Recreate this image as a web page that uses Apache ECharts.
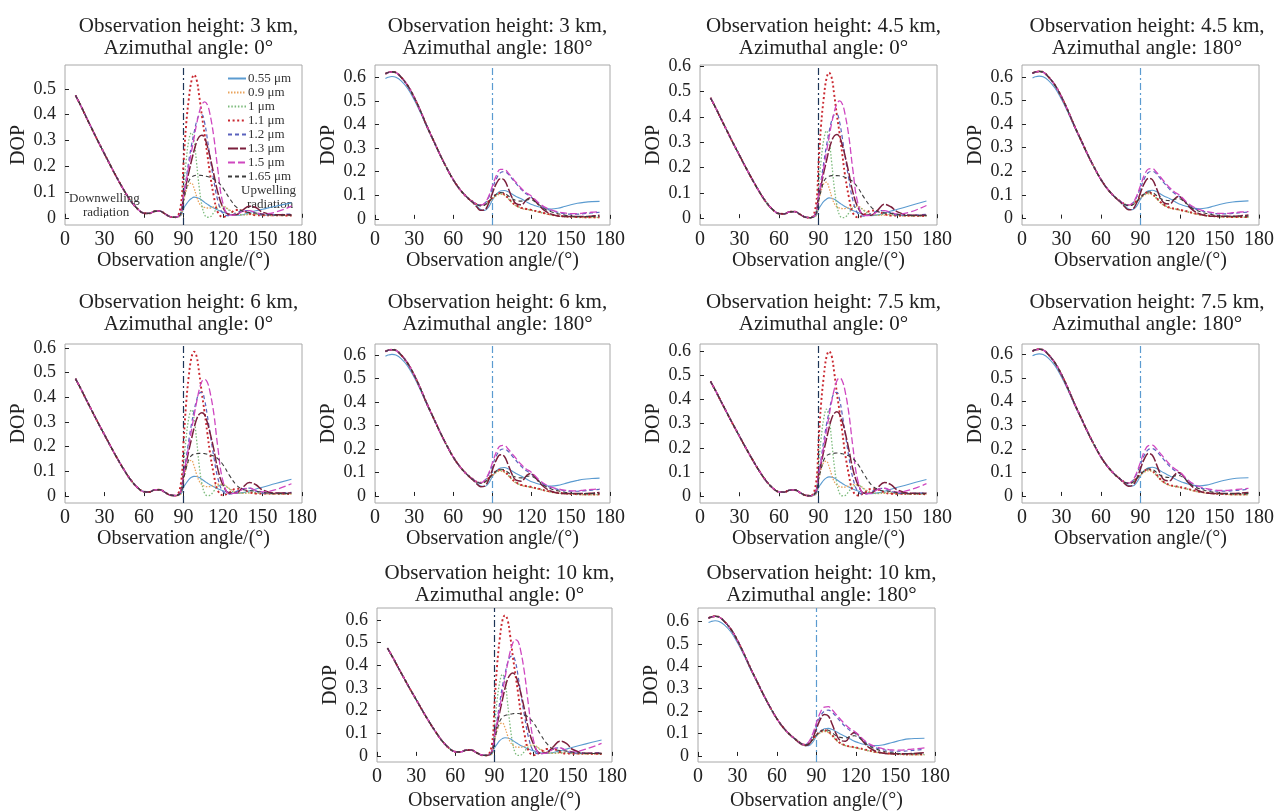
<!DOCTYPE html>
<html>
<head>
<meta charset="utf-8">
<script src="https://cdn.jsdelivr.net/npm/echarts@6/dist/echarts.min.js"></script>
<style>
  html, body { margin: 0; padding: 0; background: #fff; }
  #chart { width: 1277px; height: 812px; }
</style>
</head>
<body>
<div id="chart"></div>
<script>
// wavelengths
const waveNames = ['0.55 μm', '0.9 μm', '1 μm', '1.1 μm', '1.2 μm', '1.3 μm', '1.5 μm', '1.65 μm'];

// azimuth 0: downwelling part, same for all wavelengths
const angDown0 = [8, 12, 16, 20, 25, 30, 35, 40, 45, 50, 55, 60, 64, 68, 72, 76, 80, 84];
const dopDown0 = [0.475, 0.435, 0.392, 0.35, 0.298, 0.248, 0.198, 0.15, 0.105, 0.065, 0.035, 0.018, 0.017, 0.025, 0.026, 0.015, 0.004, 0.002];
// azimuth 0: upwelling part
const angUp0 = [88, 90, 92, 94, 96, 98, 100, 102, 104, 106, 108, 110, 113, 116, 120, 125, 130, 135, 140, 145, 150, 160, 172];

const up0_3km = [
  [0.008,0.035,0.052,0.066,0.075,0.08,0.079,0.075,0.068,0.06,0.053,0.046,0.038,0.03,0.022,0.014,0.01,0.012,0.02,0.027,0.033,0.045,0.058],
  [0.01,0.06,0.105,0.13,0.135,0.115,0.082,0.056,0.044,0.04,0.038,0.038,0.042,0.046,0.045,0.03,0.016,0.011,0.012,0.012,0.01,0.008,0.008],
  [0.02,0.12,0.22,0.3,0.33,0.3,0.21,0.115,0.048,0.012,0.002,0.003,0.02,0.038,0.042,0.028,0.012,0.012,0.015,0.014,0.011,0.01,0.01],
  [0.05,0.21,0.36,0.46,0.53,0.555,0.535,0.47,0.395,0.325,0.25,0.175,0.085,0.022,0.003,0.015,0.03,0.028,0.016,0.01,0.01,0.01,0.008],
  [0.02,0.085,0.15,0.22,0.28,0.33,0.375,0.398,0.4,0.37,0.31,0.24,0.145,0.068,0.016,0.008,0.018,0.028,0.028,0.018,0.011,0.012,0.015],
  [0.02,0.085,0.13,0.175,0.22,0.26,0.295,0.315,0.32,0.31,0.28,0.24,0.17,0.1,0.04,0.012,0.012,0.03,0.045,0.04,0.022,0.012,0.012],
  [0.02,0.085,0.14,0.2,0.255,0.31,0.365,0.41,0.44,0.45,0.44,0.405,0.315,0.19,0.055,0.01,0.012,0.025,0.028,0.02,0.015,0.022,0.045],
  [0.015,0.065,0.11,0.142,0.157,0.163,0.165,0.165,0.164,0.163,0.16,0.157,0.15,0.14,0.115,0.075,0.042,0.025,0.02,0.018,0.014,0.01,0.01]
];
const up0_45km = [
  [0.008,0.035,0.052,0.066,0.075,0.08,0.079,0.075,0.068,0.06,0.053,0.046,0.038,0.03,0.022,0.014,0.01,0.013,0.02,0.028,0.035,0.05,0.068],
  [0.01,0.062,0.108,0.136,0.142,0.12,0.085,0.058,0.045,0.04,0.038,0.038,0.042,0.047,0.046,0.03,0.016,0.011,0.012,0.012,0.01,0.008,0.008],
  [0.02,0.12,0.23,0.31,0.345,0.31,0.22,0.12,0.05,0.012,0.002,0.003,0.02,0.04,0.044,0.028,0.012,0.012,0.015,0.014,0.011,0.01,0.01],
  [0.05,0.21,0.37,0.475,0.55,0.575,0.555,0.485,0.405,0.335,0.255,0.175,0.085,0.022,0.003,0.015,0.03,0.028,0.016,0.01,0.01,0.01,0.008],
  [0.02,0.085,0.15,0.22,0.285,0.34,0.385,0.408,0.41,0.38,0.32,0.25,0.155,0.073,0.017,0.008,0.018,0.028,0.03,0.02,0.012,0.012,0.015],
  [0.02,0.085,0.13,0.18,0.225,0.27,0.305,0.325,0.33,0.32,0.29,0.25,0.18,0.105,0.042,0.012,0.012,0.032,0.055,0.045,0.025,0.012,0.012],
  [0.02,0.085,0.14,0.2,0.26,0.32,0.375,0.42,0.452,0.463,0.452,0.415,0.325,0.195,0.057,0.01,0.012,0.026,0.03,0.022,0.016,0.025,0.05],
  [0.015,0.065,0.11,0.145,0.16,0.166,0.168,0.168,0.168,0.167,0.165,0.162,0.155,0.145,0.12,0.078,0.044,0.026,0.021,0.019,0.015,0.01,0.01]
];
const up0_6km = [
  [0.008,0.035,0.052,0.067,0.076,0.08,0.079,0.075,0.068,0.06,0.053,0.046,0.038,0.03,0.022,0.014,0.011,0.014,0.021,0.029,0.036,0.051,0.068],
  [0.01,0.065,0.112,0.14,0.145,0.122,0.087,0.06,0.046,0.04,0.038,0.038,0.042,0.048,0.047,0.03,0.016,0.011,0.012,0.012,0.01,0.008,0.008],
  [0.02,0.125,0.235,0.315,0.35,0.315,0.225,0.12,0.05,0.012,0.002,0.003,0.02,0.04,0.045,0.028,0.012,0.012,0.015,0.014,0.011,0.01,0.01],
  [0.05,0.215,0.375,0.485,0.56,0.585,0.565,0.495,0.415,0.34,0.26,0.18,0.088,0.023,0.003,0.015,0.03,0.028,0.016,0.01,0.01,0.01,0.008],
  [0.02,0.087,0.155,0.225,0.29,0.345,0.39,0.417,0.42,0.39,0.33,0.26,0.16,0.075,0.018,0.008,0.018,0.03,0.032,0.02,0.012,0.012,0.015],
  [0.02,0.087,0.132,0.183,0.23,0.275,0.312,0.332,0.338,0.33,0.3,0.26,0.19,0.11,0.045,0.012,0.013,0.035,0.055,0.046,0.025,0.012,0.012],
  [0.02,0.087,0.142,0.203,0.265,0.325,0.382,0.432,0.465,0.473,0.462,0.425,0.335,0.2,0.06,0.01,0.012,0.027,0.032,0.023,0.017,0.026,0.05],
  [0.015,0.066,0.112,0.148,0.164,0.17,0.172,0.173,0.173,0.172,0.17,0.168,0.162,0.152,0.127,0.083,0.046,0.027,0.022,0.02,0.015,0.01,0.01]
];
const up0_75km = [
  [0.008,0.035,0.052,0.067,0.076,0.08,0.079,0.075,0.068,0.06,0.053,0.046,0.038,0.03,0.022,0.014,0.011,0.014,0.021,0.029,0.037,0.052,0.069],
  [0.01,0.065,0.112,0.14,0.145,0.123,0.088,0.06,0.046,0.04,0.038,0.038,0.042,0.048,0.047,0.03,0.016,0.011,0.012,0.012,0.01,0.008,0.008],
  [0.02,0.128,0.24,0.322,0.36,0.325,0.23,0.125,0.052,0.012,0.002,0.003,0.02,0.04,0.045,0.028,0.012,0.012,0.015,0.014,0.011,0.01,0.01],
  [0.05,0.22,0.385,0.495,0.575,0.6,0.58,0.51,0.425,0.35,0.27,0.185,0.09,0.023,0.003,0.015,0.03,0.028,0.016,0.01,0.01,0.01,0.008],
  [0.02,0.088,0.157,0.23,0.295,0.35,0.4,0.427,0.43,0.4,0.34,0.27,0.165,0.078,0.019,0.008,0.018,0.03,0.033,0.021,0.012,0.012,0.015],
  [0.02,0.088,0.135,0.187,0.235,0.282,0.322,0.343,0.35,0.34,0.31,0.27,0.195,0.115,0.047,0.012,0.013,0.036,0.057,0.048,0.026,0.012,0.012],
  [0.02,0.088,0.145,0.207,0.27,0.332,0.392,0.443,0.478,0.49,0.478,0.44,0.345,0.21,0.062,0.01,0.012,0.028,0.033,0.024,0.017,0.027,0.052],
  [0.015,0.067,0.113,0.15,0.167,0.174,0.176,0.178,0.179,0.178,0.176,0.173,0.167,0.157,0.132,0.087,0.048,0.028,0.022,0.02,0.015,0.01,0.01]
];
const up0_10km = [
  [0.008,0.035,0.052,0.067,0.076,0.08,0.079,0.075,0.068,0.06,0.053,0.046,0.038,0.03,0.022,0.014,0.011,0.015,0.022,0.03,0.038,0.053,0.07],
  [0.01,0.065,0.112,0.14,0.145,0.125,0.09,0.062,0.047,0.04,0.038,0.038,0.042,0.048,0.047,0.03,0.016,0.011,0.012,0.012,0.01,0.008,0.008],
  [0.02,0.13,0.245,0.325,0.36,0.33,0.235,0.13,0.053,0.012,0.002,0.003,0.02,0.04,0.045,0.028,0.012,0.012,0.015,0.014,0.011,0.01,0.01],
  [0.05,0.23,0.4,0.515,0.595,0.62,0.6,0.53,0.44,0.36,0.28,0.195,0.095,0.024,0.003,0.015,0.03,0.03,0.017,0.01,0.01,0.01,0.008],
  [0.02,0.09,0.16,0.235,0.305,0.36,0.41,0.437,0.44,0.415,0.355,0.28,0.175,0.083,0.02,0.008,0.02,0.032,0.035,0.022,0.012,0.012,0.015],
  [0.02,0.09,0.138,0.193,0.245,0.297,0.337,0.358,0.365,0.355,0.325,0.28,0.205,0.12,0.05,0.012,0.014,0.04,0.065,0.055,0.028,0.012,0.012],
  [0.02,0.09,0.148,0.212,0.278,0.342,0.405,0.46,0.497,0.513,0.505,0.465,0.365,0.225,0.066,0.01,0.012,0.03,0.035,0.025,0.018,0.03,0.055],
  [0.015,0.068,0.115,0.152,0.17,0.178,0.181,0.184,0.186,0.187,0.187,0.185,0.18,0.17,0.145,0.097,0.055,0.03,0.024,0.021,0.016,0.011,0.01]
];

// azimuth 180: downwelling part
const angDown180 = [8, 10, 13, 16, 20, 25, 30, 35, 40, 45, 50, 55, 60, 65, 70];
const dopDown180 = [0.615, 0.62, 0.623, 0.62, 0.6, 0.565, 0.515, 0.455, 0.39, 0.33, 0.27, 0.215, 0.165, 0.125, 0.094];
const dopDown180_055 = [0.595, 0.6, 0.603, 0.6, 0.585, 0.553, 0.505, 0.448, 0.385, 0.327, 0.268, 0.214, 0.165, 0.125, 0.094];
// azimuth 180: upwelling part
const angUp180 = [75, 78, 81, 84, 87, 90, 93, 96, 99, 102, 105, 108, 112, 116, 119, 122, 126, 130, 135, 140, 145, 150, 155, 160, 166, 172];

const up180_3km = [
  [0.07,0.055,0.04,0.036,0.05,0.08,0.105,0.118,0.12,0.115,0.105,0.095,0.085,0.072,0.063,0.057,0.05,0.045,0.042,0.045,0.052,0.06,0.066,0.07,0.073,0.074],
  [0.072,0.062,0.058,0.06,0.07,0.085,0.098,0.104,0.1,0.085,0.068,0.055,0.045,0.04,0.037,0.033,0.028,0.022,0.016,0.012,0.009,0.007,0.006,0.005,0.005,0.005],
  [0.072,0.062,0.058,0.061,0.072,0.088,0.101,0.107,0.102,0.087,0.07,0.057,0.046,0.041,0.038,0.034,0.029,0.023,0.017,0.013,0.01,0.008,0.007,0.006,0.006,0.006],
  [0.072,0.062,0.058,0.062,0.074,0.09,0.104,0.11,0.104,0.088,0.071,0.058,0.047,0.042,0.039,0.035,0.03,0.024,0.018,0.014,0.011,0.009,0.008,0.007,0.007,0.007],
  [0.072,0.062,0.058,0.065,0.09,0.13,0.17,0.195,0.2,0.19,0.17,0.15,0.125,0.105,0.095,0.08,0.06,0.045,0.035,0.028,0.022,0.02,0.02,0.022,0.025,0.028],
  [0.068,0.05,0.036,0.038,0.065,0.11,0.15,0.17,0.165,0.13,0.09,0.065,0.06,0.08,0.09,0.08,0.055,0.035,0.02,0.012,0.01,0.01,0.01,0.01,0.012,0.015],
  [0.072,0.062,0.058,0.066,0.095,0.14,0.185,0.21,0.21,0.195,0.175,0.155,0.13,0.11,0.1,0.085,0.065,0.05,0.038,0.03,0.025,0.022,0.022,0.025,0.028,0.03],
  [0.07,0.06,0.055,0.058,0.072,0.09,0.105,0.112,0.11,0.098,0.085,0.078,0.075,0.08,0.082,0.075,0.058,0.042,0.03,0.022,0.016,0.012,0.01,0.01,0.01,0.01]
];
const up180_45km = [
  [0.07,0.055,0.041,0.038,0.052,0.082,0.106,0.118,0.12,0.115,0.105,0.095,0.085,0.072,0.063,0.057,0.05,0.045,0.042,0.045,0.052,0.06,0.066,0.07,0.073,0.075],
  [0.072,0.061,0.057,0.06,0.07,0.086,0.099,0.105,0.1,0.085,0.068,0.055,0.045,0.04,0.037,0.033,0.028,0.022,0.016,0.012,0.009,0.007,0.006,0.005,0.005,0.005],
  [0.072,0.061,0.057,0.061,0.073,0.089,0.102,0.108,0.103,0.088,0.07,0.057,0.046,0.041,0.038,0.034,0.029,0.023,0.017,0.013,0.01,0.008,0.007,0.006,0.006,0.006],
  [0.072,0.061,0.057,0.062,0.075,0.091,0.105,0.111,0.105,0.089,0.071,0.058,0.047,0.042,0.039,0.035,0.03,0.024,0.018,0.014,0.011,0.009,0.008,0.007,0.007,0.007],
  [0.072,0.061,0.057,0.065,0.09,0.13,0.17,0.195,0.2,0.19,0.17,0.15,0.125,0.106,0.096,0.082,0.062,0.046,0.035,0.028,0.022,0.02,0.02,0.022,0.025,0.028],
  [0.068,0.05,0.037,0.04,0.066,0.11,0.15,0.17,0.165,0.13,0.09,0.066,0.062,0.084,0.094,0.083,0.056,0.035,0.02,0.012,0.01,0.01,0.01,0.01,0.012,0.015],
  [0.072,0.061,0.057,0.066,0.095,0.14,0.185,0.21,0.212,0.197,0.177,0.157,0.132,0.112,0.102,0.087,0.066,0.05,0.038,0.03,0.025,0.022,0.022,0.025,0.028,0.03],
  [0.07,0.06,0.055,0.058,0.072,0.09,0.105,0.113,0.111,0.099,0.086,0.079,0.076,0.082,0.084,0.077,0.059,0.042,0.03,0.022,0.016,0.012,0.01,0.01,0.01,0.01]
];
const up180_6km = [
  [0.07,0.055,0.042,0.04,0.054,0.084,0.107,0.119,0.121,0.116,0.106,0.096,0.085,0.072,0.063,0.057,0.05,0.045,0.042,0.045,0.052,0.06,0.066,0.071,0.074,0.076],
  [0.071,0.06,0.056,0.06,0.071,0.087,0.1,0.106,0.101,0.086,0.069,0.055,0.045,0.04,0.037,0.033,0.028,0.022,0.016,0.012,0.009,0.007,0.006,0.005,0.005,0.005],
  [0.071,0.06,0.056,0.061,0.074,0.09,0.103,0.109,0.104,0.089,0.071,0.057,0.046,0.041,0.038,0.034,0.029,0.023,0.017,0.013,0.01,0.008,0.007,0.006,0.006,0.006],
  [0.071,0.06,0.056,0.062,0.076,0.092,0.106,0.112,0.106,0.09,0.072,0.058,0.047,0.042,0.039,0.035,0.03,0.024,0.018,0.014,0.011,0.009,0.008,0.007,0.007,0.007],
  [0.071,0.06,0.056,0.065,0.091,0.132,0.172,0.196,0.2,0.19,0.171,0.151,0.126,0.107,0.097,0.083,0.063,0.047,0.035,0.028,0.022,0.02,0.02,0.022,0.025,0.028],
  [0.068,0.051,0.039,0.042,0.068,0.113,0.154,0.175,0.169,0.133,0.092,0.067,0.063,0.086,0.096,0.085,0.057,0.036,0.02,0.012,0.01,0.01,0.01,0.01,0.012,0.015],
  [0.071,0.06,0.056,0.066,0.096,0.142,0.188,0.213,0.215,0.2,0.18,0.16,0.134,0.114,0.104,0.089,0.067,0.051,0.038,0.03,0.025,0.022,0.022,0.025,0.028,0.03],
  [0.07,0.059,0.054,0.058,0.073,0.091,0.106,0.114,0.112,0.1,0.087,0.08,0.077,0.083,0.085,0.078,0.06,0.043,0.03,0.022,0.016,0.012,0.01,0.01,0.01,0.01]
];
const up180_75km = [
  [0.07,0.056,0.044,0.042,0.056,0.086,0.108,0.12,0.122,0.117,0.107,0.097,0.086,0.073,0.064,0.058,0.051,0.046,0.043,0.046,0.053,0.061,0.068,0.073,0.076,0.077],
  [0.07,0.058,0.054,0.059,0.071,0.088,0.101,0.107,0.102,0.087,0.069,0.056,0.045,0.04,0.037,0.033,0.028,0.022,0.016,0.012,0.009,0.007,0.006,0.005,0.005,0.005],
  [0.07,0.058,0.054,0.06,0.074,0.091,0.104,0.11,0.105,0.09,0.071,0.057,0.046,0.041,0.038,0.034,0.029,0.023,0.017,0.013,0.01,0.008,0.007,0.006,0.006,0.006],
  [0.07,0.058,0.054,0.061,0.076,0.093,0.107,0.113,0.107,0.091,0.072,0.058,0.047,0.042,0.039,0.035,0.03,0.024,0.018,0.014,0.011,0.009,0.008,0.007,0.007,0.007],
  [0.07,0.058,0.054,0.064,0.092,0.134,0.174,0.197,0.201,0.191,0.172,0.152,0.127,0.108,0.098,0.084,0.064,0.047,0.035,0.028,0.022,0.02,0.02,0.022,0.025,0.028],
  [0.068,0.052,0.041,0.045,0.071,0.116,0.158,0.18,0.173,0.136,0.094,0.068,0.064,0.09,0.1,0.088,0.058,0.036,0.02,0.012,0.01,0.01,0.01,0.01,0.012,0.015],
  [0.07,0.058,0.054,0.066,0.097,0.144,0.19,0.214,0.216,0.201,0.181,0.161,0.135,0.115,0.105,0.09,0.068,0.052,0.039,0.031,0.026,0.023,0.023,0.026,0.029,0.032],
  [0.07,0.058,0.053,0.057,0.073,0.092,0.107,0.115,0.113,0.101,0.088,0.081,0.078,0.085,0.087,0.08,0.061,0.043,0.03,0.022,0.016,0.012,0.01,0.01,0.01,0.01]
];
const up180_10km = [
  [0.07,0.057,0.047,0.046,0.06,0.089,0.11,0.121,0.123,0.118,0.108,0.098,0.087,0.074,0.065,0.059,0.052,0.048,0.046,0.049,0.056,0.064,0.071,0.076,0.078,0.079],
  [0.07,0.057,0.05,0.054,0.07,0.09,0.103,0.109,0.104,0.088,0.07,0.056,0.045,0.04,0.037,0.033,0.028,0.022,0.016,0.012,0.009,0.007,0.006,0.005,0.005,0.005],
  [0.07,0.057,0.05,0.055,0.073,0.093,0.106,0.112,0.107,0.091,0.072,0.057,0.046,0.041,0.038,0.034,0.029,0.023,0.017,0.013,0.01,0.008,0.007,0.006,0.006,0.006],
  [0.07,0.057,0.05,0.056,0.075,0.095,0.109,0.115,0.109,0.092,0.073,0.058,0.047,0.042,0.039,0.035,0.03,0.024,0.018,0.014,0.011,0.009,0.008,0.007,0.007,0.007],
  [0.07,0.057,0.05,0.06,0.092,0.138,0.178,0.2,0.204,0.194,0.175,0.155,0.13,0.111,0.101,0.087,0.066,0.049,0.036,0.029,0.023,0.021,0.021,0.023,0.026,0.03],
  [0.068,0.054,0.046,0.05,0.076,0.122,0.164,0.185,0.178,0.14,0.097,0.07,0.066,0.094,0.105,0.092,0.06,0.037,0.021,0.013,0.01,0.01,0.01,0.01,0.012,0.015],
  [0.07,0.057,0.05,0.062,0.097,0.148,0.195,0.218,0.22,0.205,0.185,0.165,0.139,0.119,0.109,0.094,0.071,0.054,0.041,0.033,0.028,0.026,0.026,0.029,0.032,0.036],
  [0.07,0.057,0.049,0.053,0.072,0.094,0.109,0.117,0.115,0.103,0.09,0.083,0.08,0.088,0.09,0.083,0.063,0.044,0.031,0.022,0.016,0.012,0.01,0.01,0.01,0.01]
];

// line look per wavelength
const waveStyles = [
  { color: '#5b9bd0', type: 'solid', width: 1.1 },
  { color: '#e9a35c', type: [1.5, 1.5], width: 1.3 },
  { color: '#7dbb7c', type: [1.5, 1.8], width: 1.3 },
  { color: '#c9272f', type: [2, 2.6], width: 1.9 },
  { color: '#5a62bd', type: [4, 3], width: 1.2 },
  { color: '#7b1f3c', type: [10, 2], width: 1.5 },
  { color: '#cf47c0', type: [7, 3], width: 1.3 },
  { color: '#3d3d3d', type: [4, 3], width: 1.1 }
];

// panel layout: plot box [left, top, right, bottom], title top, x name gap
const panels = [
  { t: 'Observation height: 3 km,\nAzimuthal angle: 0°', az: 0, up: up0_3km, box: [65, 65, 302, 225], tt: 10, ng: 25, y: [-0.028, 0.593] },
  { t: 'Observation height: 3 km,\nAzimuthal angle: 180°', az: 180, up: up180_3km, box: [375, 65, 610, 225], tt: 10, ng: 25, y: [-0.026, 0.652] },
  { t: 'Observation height: 4.5 km,\nAzimuthal angle: 0°', az: 0, up: up0_45km, box: [700, 65, 937, 225], tt: 10, ng: 25, y: [-0.027, 0.605] },
  { t: 'Observation height: 4.5 km,\nAzimuthal angle: 180°', az: 180, up: up180_45km, box: [1022, 65, 1262, 225], tt: 10, ng: 25, y: [-0.027, 0.65] },
  { t: 'Observation height: 6 km,\nAzimuthal angle: 0°', az: 0, up: up0_6km, box: [65, 344, 302, 503], tt: 286, ng: 25, y: [-0.028, 0.616] },
  { t: 'Observation height: 6 km,\nAzimuthal angle: 180°', az: 180, up: up180_6km, box: [375, 344, 610, 503], tt: 286, ng: 25, y: [-0.03, 0.647] },
  { t: 'Observation height: 7.5 km,\nAzimuthal angle: 0°', az: 0, up: up0_75km, box: [700, 344, 937, 503], tt: 286, ng: 25, y: [-0.028, 0.63] },
  { t: 'Observation height: 7.5 km,\nAzimuthal angle: 180°', az: 180, up: up180_75km, box: [1022, 344, 1262, 503], tt: 286, ng: 25, y: [-0.03, 0.645] },
  { t: 'Observation height: 10 km,\nAzimuthal angle: 0°', az: 0, up: up0_10km, box: [377, 608, 612, 767], tt: 557, ng: 29, y: [-0.027, 0.652] },
  { t: 'Observation height: 10 km,\nAzimuthal angle: 180°', az: 180, up: up180_10km, box: [698, 608, 935, 767], tt: 557, ng: 29, y: [-0.027, 0.66] }
];

const font = 'Liberation Serif';
const grids = [], xAxes = [], yAxes = [], titles = [], series = [];

panels.forEach((p, i) => {
  const [l, t, r, b] = p.box;
  grids.push({ left: l, top: t, width: r - l, height: b - t, show: true, borderColor: '#a8a8a8', borderWidth: 1, backgroundColor: 'transparent' });
  titles.push({
    text: p.t, left: (l + r) / 2, top: p.tt, textAlign: 'center',
    textStyle: { fontFamily: font, fontSize: 21, fontWeight: 'normal', color: '#222', lineHeight: 22 }
  });
  xAxes.push({
    type: 'value', gridIndex: i, min: 0, max: 180, interval: 30,
    name: 'Observation angle/(°)', nameLocation: 'middle', nameGap: p.ng,
    nameTextStyle: { fontFamily: font, fontSize: 20, color: '#222' },
    axisLine: { show: false },
    axisTick: { show: true, inside: true, length: 4, lineStyle: { color: '#222' } },
    axisLabel: { fontFamily: font, fontSize: 20, color: '#222', margin: 5 },
    splitLine: { show: false }
  });
  yAxes.push({
    type: 'value', gridIndex: i, min: p.y[0], max: p.y[1],
    name: 'DOP', nameLocation: 'middle', nameGap: 36,
    nameTextStyle: { fontFamily: font, fontSize: 20, color: '#222' },
    axisLine: { show: false },
    axisTick: { show: true, inside: true, length: 4, lineStyle: { color: '#222' } },
    axisLabel: { fontFamily: font, fontSize: 18, color: '#222', margin: 9, showMinLabel: false, showMaxLabel: false },
    splitLine: { show: false }
  });

  const angDown = p.az === 0 ? angDown0 : angDown180;
  const angUp = p.az === 0 ? angUp0 : angUp180;
  waveNames.forEach((name, k) => {
    const down = p.az === 0 ? dopDown0 : (k === 0 ? dopDown180_055 : dopDown180);
    const data = angDown.map((a, j) => [a, down[j]]).concat(angUp.map((a, j) => [a, p.up[k][j]]));
    const s = {
      name: name, type: 'line', xAxisIndex: i, yAxisIndex: i,
      data: data, smooth: 0.4, symbol: 'none',
      lineStyle: { color: waveStyles[k].color, type: waveStyles[k].type, width: waveStyles[k].width },
      itemStyle: { color: waveStyles[k].color },
      z: 2 + k
    };
    if (k === 0) {
      s.markLine = {
        silent: true, symbol: 'none', label: { show: false },
        lineStyle: { color: p.az === 0 ? '#1d3557' : '#5b9bd0', type: [7, 3, 2, 3], width: 1.2 },
        data: [{ xAxis: 90 }]
      };
    }
    series.push(s);
  });
});

const chart = echarts.init(document.getElementById('chart'));
chart.setOption({
  animation: false,
  backgroundColor: '#fff',
  title: titles,
  grid: grids,
  xAxis: xAxes,
  yAxis: yAxes,
  legend: {
    data: waveNames, orient: 'vertical', left: 222, top: 67,
    itemWidth: 18, itemHeight: 12, itemGap: 1,
    itemStyle: { color: 'transparent', borderColor: 'transparent', borderWidth: 0, opacity: 0 },
    textStyle: { fontFamily: font, fontSize: 13, color: '#333', lineHeight: 12, padding: [0, 0, 0, -3] },
    selectedMode: false
  },
  graphic: [
    { type: 'text', left: 69, top: 192, style: { text: 'Downwelling', fontFamily: font, fontSize: 13, fill: '#333' } },
    { type: 'text', left: 83, top: 206, style: { text: 'radiation', fontFamily: font, fontSize: 13, fill: '#333' } },
    { type: 'text', left: 241, top: 184, style: { text: 'Upwelling', fontFamily: font, fontSize: 13, fill: '#333' } },
    { type: 'text', left: 247, top: 198, style: { text: 'radiation', fontFamily: font, fontSize: 13, fill: '#333' } }
  ],
  series: series
});
</script>
</body>
</html>
